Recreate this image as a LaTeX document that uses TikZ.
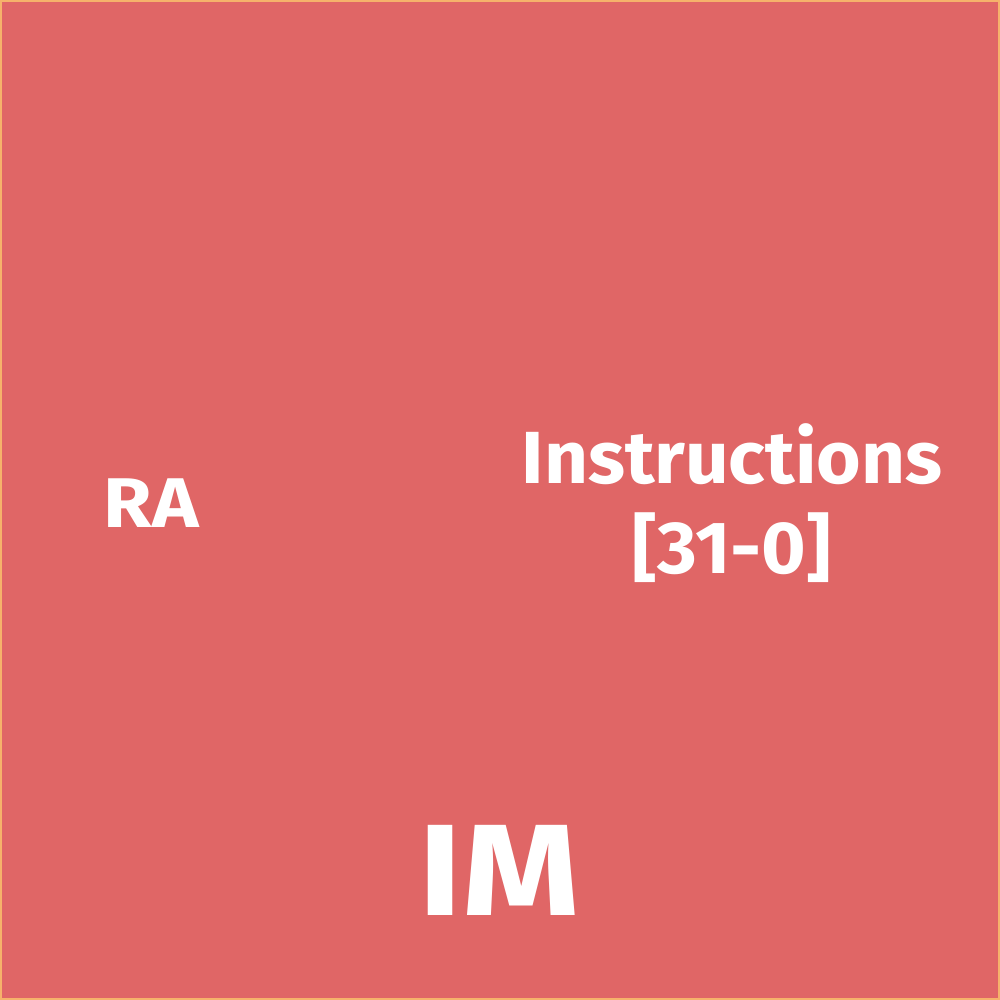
\documentclass[tikz,border=0pt]{standalone}
\usepackage{fontspec}
\setmainfont{Fira Sans}
\definecolor{boxfill}{HTML}{E06666}
\definecolor{boxline}{HTML}{F6B26B}
\tikzset{lbl/.style={text=white, font=\bfseries, inner sep=0pt, align=center}}
\begin{document}
\begin{tikzpicture}[x=0.01cm,y=-0.01cm]
\useasboundingbox (0,0) rectangle (1000,1000);
\node[draw=boxline, fill=boxfill, line width=0.6pt, minimum width=9.98cm, minimum height=9.98cm, inner sep=0pt, anchor=center] (im) at (500,500) {};
\node[lbl, font=\bfseries\fontsize{20}{24}\selectfont] (ra) at (151,503) {\scalebox{1.12}[1]{RA}};
\node[lbl, font=\bfseries\fontsize{21}{25.5}\selectfont] (instr) at (732,503) {\scalebox{1.035}[1]{Instructions}\\\scalebox{1.035}[1]{[31-0]}};
\node[lbl, font=\bfseries\fontsize{37}{40}\selectfont] (imlabel) at (499,870) {\scalebox{1.15}[1]{IM}};
\end{tikzpicture}
\end{document}
